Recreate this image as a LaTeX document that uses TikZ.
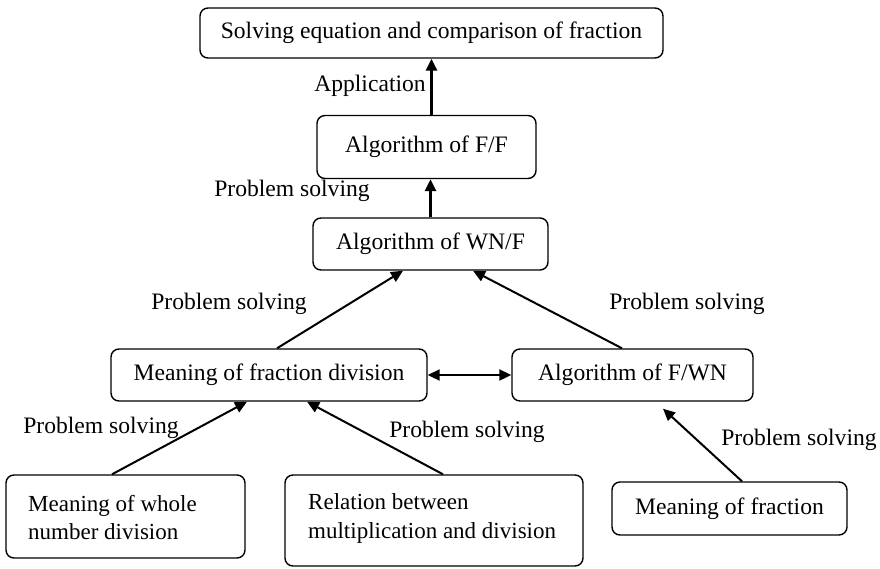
\documentclass[tikz,border=0pt]{standalone}
\usepackage{fontspec}
\setmainfont{Liberation Serif}
\usetikzlibrary{arrows.meta,calc}
\begin{document}
\begin{tikzpicture}[x=1pt,y=-1pt,
  box/.style={draw,line width=1.4pt,rounded corners=8pt,inner sep=0pt,font=\fontsize{23.6}{30}\selectfont,align=center},
  lbl/.style={inner sep=0pt,font=\fontsize{23.6}{30}\selectfont},
  btxt/.style={inner sep=0pt,anchor=west,align=left,font=\fontsize{23}{28.5}\selectfont},
  arr/.style={line width=2pt,-{Triangle[length=12pt,width=11pt]}},
  thickarr/.style={line width=3pt,-{Triangle[length=12pt,width=11pt]}},
  dbl/.style={line width=2pt,{Triangle[length=12pt,width=11pt]}-{Triangle[length=12pt,width=11pt]}}]
\useasboundingbox (0,0) rectangle (880,568);
\node[box,minimum width=463pt,minimum height=50pt] (top) at (431.5,33) {Solving equation and comparison of fraction};
\node[box,minimum width=219pt,minimum height=63pt] (FF) at (426.5,147) {Algorithm of F/F};
\node[box,minimum width=235pt,minimum height=52pt] (WNF) at (430.5,244) {Algorithm of WN/F};
\node[box,minimum width=316pt,minimum height=52pt] (MFD) at (269,375) {Meaning of fraction division};
\node[box,minimum width=241pt,minimum height=52pt] (FWN) at (632.5,375) {Algorithm of F/WN};
\node[box,minimum width=239pt,minimum height=83pt] (WND) at (125.5,516.5) {};
\node[btxt] (WNDt) at (28,517.5) {Meaning of whole\\number division};
\node[box,minimum width=298pt,minimum height=91pt] (REL) at (434,520.5) {};
\node[btxt] (RELt) at (308,518.5) {Relation between\\multiplication and division};
\node[box,minimum width=235pt,minimum height=53pt] (MF) at (729.5,508.5) {Meaning of fraction};

\node[lbl] (l1) at (370,86) {Application};
\node[lbl] (l2) at (292,191) {Problem solving};
\node[lbl] (l3) at (229,304) {Problem solving};
\node[lbl] (l4) at (687,304) {Problem solving};
\node[lbl] (l5) at (101,428) {Problem solving};
\node[lbl] (l6) at (467,432) {Problem solving};
\node[lbl] (l7) at (799,440) {Problem solving};

\draw[thickarr] (FF.north -| top.south) -- (top.south);
\draw[thickarr] (WNF.north) -- (WNF.north |- FF.south);
\draw[arr] ($(MFD.north)+(8,0)$) -- ($(WNF.south)+(-27.5,0)$);
\draw[arr] ($(FWN.north)+(-10.5,0)$) -- ($(WNF.south)+(42.5,0)$);
\draw[dbl] (MFD.east) -- (FWN.west);
\draw[arr] ($(WND.north)+(-13.5,0)$) -- ($(MFD.south)+(-22,0)$);
\draw[arr] ($(REL.north)+(9,0)$) -- ($(MFD.south)+(38,0)$);
\draw[arr] ($(MF.north)+(12.5,0)$) -- ($(FWN.south)+(30.5,7)$);
\end{tikzpicture}
\end{document}
